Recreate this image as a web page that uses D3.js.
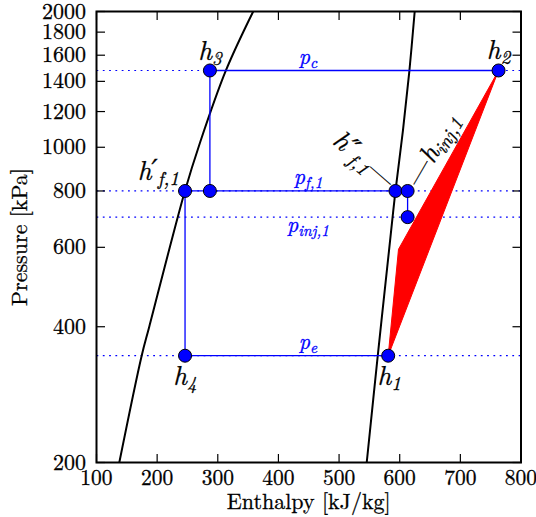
<!DOCTYPE html>
<html><head><meta charset="utf-8">
<script src="https://cdn.jsdelivr.net/npm/d3@7"></script>
<style>body{margin:0;background:#fff}svg{display:block}</style>
</head><body><svg id="c" width="536" height="517"></svg>
<script>
// ---- data ----
const xTicks = [100, 200, 300, 400, 500, 600, 700, 800];
const yTicks = [200, 400, 600, 800, 1000, 1200, 1400, 1600, 1800, 2000];
// saturation dome
const satLiqP = [200, 345, 400, 800, 1022, 1480, 2000];
const satLiqH = [137.6, 174.5, 187, 245.8, 270.5, 313.4, 358.4];
const satVapP = [200, 345, 591, 800, 1092, 1480, 2000];
const satVapH = [545.6, 563.8, 582.4, 593, 605.4, 616, 624.7];
// pressure levels
const pLevels = [1480, 800, 700, 345];
const pLevelNames = ["c", "f,1", "inj,1", "e"];
// cycle states [h, p]
const stateH = [581, 763, 287, 246, 246, 287, 593, 613, 613];
const stateP = [345, 1480, 1480, 345, 800, 800, 800, 800, 700];
// cycle segments (index pairs into states)
const segments = [[2, 1], [2, 5], [4, 7], [4, 3], [3, 0], [7, 8]];
// compression region
const compH = [581, 598, 763];
const compP = [345, 594, 1480];

const FONT = '"Latin Modern Roman", "DejaVu Serif", serif';
const svg = d3.select("#c");
const x = d3.scaleLinear([100, 800], [96.5, 521]);
const y = d3.scaleLog([200, 2000], [462.5, 11.5]);
const X0 = x.range()[0], X1 = x.range()[1], Y0 = y.range()[0], Y1 = y.range()[1];

svg.append("defs").append("clipPath").attr("id", "clip")
  .append("rect").attr("x", X0).attr("y", Y1).attr("width", X1 - X0).attr("height", Y0 - Y1);
const g = svg.append("g").attr("clip-path", "url(#clip)");

// dotted pressure lines
g.selectAll("line.lvl").data(pLevels).join("line")
  .attr("x1", X0).attr("x2", X1).attr("y1", d => y(d)).attr("y2", d => y(d))
  .attr("stroke", "#0000ff").attr("stroke-width", 1.2).attr("stroke-dasharray", "1.8,4.5");

// saturation curves
const line = d3.line().x(d => x(d[0])).y(d => y(d[1])).curve(d3.curveCatmullRom);
g.append("path").attr("d", line(satLiqH.map((h, i) => [h, satLiqP[i]])))
  .attr("fill", "none").attr("stroke", "#000").attr("stroke-width", 2);
g.append("path").attr("d", line(satVapH.map((h, i) => [h, satVapP[i]])))
  .attr("fill", "none").attr("stroke", "#000").attr("stroke-width", 2);

// compression region
g.append("path").attr("d", d3.line().x(d => x(d[0])).y(d => y(d[1]))(compH.map((h, i) => [h, compP[i]])) + "Z")
  .attr("fill", "#ff0000").attr("stroke", "#ff0000").attr("stroke-width", 1);

// cycle lines
g.selectAll("line.seg").data(segments).join("line")
  .attr("x1", d => x(stateH[d[0]])).attr("y1", d => y(stateP[d[0]]))
  .attr("x2", d => x(stateH[d[1]])).attr("y2", d => y(stateP[d[1]]))
  .attr("stroke", "#0000ff").attr("stroke-width", 1.3);

// markers
svg.selectAll("circle.st").data(stateH.map((h, i) => [h, stateP[i]])).join("circle")
  .attr("cx", d => x(d[0])).attr("cy", d => y(d[1])).attr("r", 6.5)
  .attr("fill", "#0000ff").attr("stroke", "#000").attr("stroke-width", 1);

// math labels
function mlabel(px, py, base, sub, size, color, anchor, rot, suffix, prefix) {
  const t = svg.append("text").style("font-family", FONT).attr("font-size", size)
    .attr("fill", color).attr("stroke", color).attr("stroke-width", 0.3).attr("text-anchor", anchor)
    .attr("transform", `translate(${px},${py}) rotate(${rot || 0})`);
  if (prefix) t.append("tspan").attr("font-style", "normal").text(prefix);
  t.append("tspan").attr("font-style", "italic").text(base);
  t.append("tspan").attr("font-style", "italic").attr("font-size", size * 0.7)
    .attr("dy", size * 0.2).text(sub);
  if (suffix) t.append("tspan").attr("font-style", "normal").attr("dy", -size * 0.2).text(suffix);
  return t;
}
const hs = 27, ps = 22;
mlabel(x(287), 60, "h", "3", hs, "#000", "middle");
mlabel(x(763), 59, "h", "2", hs, "#000", "middle");
mlabel(x(581) + 1, 385, "h", "1", hs, "#000", "middle");
mlabel(x(246), 385, "h", "4", hs, "#000", "middle");
mlabel(179, 180, "h\u2032", "f,1", hs, "#000", "end");
mlabel(386, 190, "h\u2033", "f,1", hs, "#000", "end", 41, "\u2014");
mlabel(420, 188, "h", "inj,1", hs, "#000", "start", -60, null, "\u2014");
// pressure level labels
const plabY = [64, 184, 232, 349];
pLevels.forEach((p, i) => mlabel(308, plabY[i], "p", pLevelNames[i], ps, "#0000ff", "middle"));

// axes frame
svg.append("rect").attr("x", X0).attr("y", Y1).attr("width", X1 - X0).attr("height", Y0 - Y1)
  .attr("fill", "none").attr("stroke", "#000").attr("stroke-width", 2);
const tl = 8.5;
function txt(sel) { return sel.style("font-family", FONT).attr("stroke", "#000").attr("stroke-width", 0.3); }
xTicks.forEach(v => {
  svg.append("line").attr("x1", x(v)).attr("x2", x(v)).attr("y1", Y0).attr("y2", Y0 - tl).attr("stroke", "#000").attr("stroke-width", 1.2);
  svg.append("line").attr("x1", x(v)).attr("x2", x(v)).attr("y1", Y1).attr("y2", Y1 + tl).attr("stroke", "#000").attr("stroke-width", 1.2);
  txt(svg.append("text").attr("x", x(v)).attr("y", 485).attr("text-anchor", "middle")
    .attr("font-size", 21.5)).text(v);
});
yTicks.forEach(v => {
  svg.append("line").attr("x1", X0).attr("x2", X0 + tl).attr("y1", y(v)).attr("y2", y(v)).attr("stroke", "#000").attr("stroke-width", 1.2);
  svg.append("line").attr("x1", X1).attr("x2", X1 - tl).attr("y1", y(v)).attr("y2", y(v)).attr("stroke", "#000").attr("stroke-width", 1.2);
  txt(svg.append("text").attr("x", 86).attr("y", y(v) + 7).attr("text-anchor", "end")
    .attr("font-size", 22)).text(v);
});
txt(svg.append("text").attr("x", (X0 + X1) / 2).attr("y", 509).attr("text-anchor", "middle")
  .attr("font-size", 22)).text("Enthalpy [kJ/kg]");
txt(svg.append("text").attr("transform", `translate(27,${(Y0 + Y1) / 2}) rotate(-90)`).attr("text-anchor", "middle")
  .attr("font-size", 22)).text("Pressure [kPa]");
</script></body></html>
